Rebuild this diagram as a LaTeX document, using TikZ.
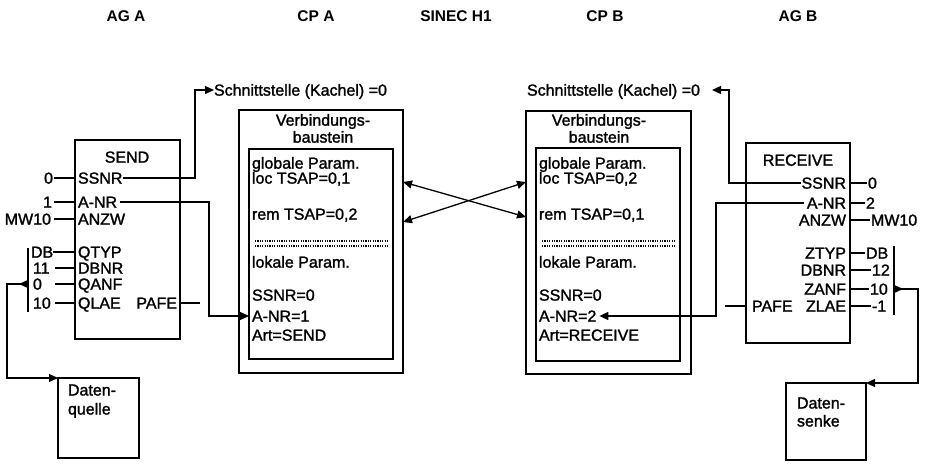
\documentclass[tikz,border=0pt]{standalone}
\usepackage{fontspec}
\setmainfont{Liberation Sans}
\newfontfamily\printfont{Liberation Sans}[FakeBold=1.5]
\usetikzlibrary{arrows.meta,calc}
\begin{document}
\begin{tikzpicture}[x=1pt,y=-1pt,
  line width=1.3pt,
  every node/.style={inner sep=0pt, outer sep=0pt},
  txt/.style={font=\printfont\fontsize{16}{18}\selectfont, text height=11.3pt, text depth=0pt},
  head/.style={font=\fontsize{15.5}{17}\selectfont\bfseries, text height=11pt, text depth=0pt},
  box/.style={draw, anchor=north west, line width=1.4pt},
  tip/.style={-{Triangle[length=9pt,width=8pt]}},
  dtip/.style={{Triangle[length=9pt,width=8pt]}-{Triangle[length=9pt,width=8pt]}},
  btip/.style={{Triangle[length=9pt,width=8pt,reversed]}-{Triangle[length=9pt,width=8pt]}},
  dots/.style={line width=1.3pt, dash pattern=on 1.2pt off 1.2pt},
]
\useasboundingbox (0,0) rectangle (926,463);

% column headings
\node[head] (hAGA) at (126,16) {AG A};
\node[head] (hCPA) at (316,16) {CP A};
\node[head] (hSIN) at (456,16) {SINEC H1};
\node[head] (hCPB) at (605,16) {CP B};
\node[head] (hAGB) at (798,16) {AG B};

% junction columns for the routed lines
\coordinate (jA) at (209,0);
\coordinate (jB) at (716,0);

% ---------------- SEND block (AG A) ----------------
\node[box, minimum width=105pt, minimum height=199pt] (send) at (75,140) {};
\node[txt] (sendT) at (127,157) {SEND};
\node[txt, anchor=west] (sSSNR) at (78,178) {SSNR};
\node[txt, anchor=west] (sANR)  at (78,202) {A-NR};
\node[txt, anchor=west] (sANZW) at (78,219) {ANZW};
\node[txt, anchor=west] (sQTYP) at (78,252) {QTYP};
\node[txt, anchor=west] (sDBNR) at (78,268) {DBNR};
\node[txt, anchor=west] (sQANF) at (78,284) {QANF};
\node[txt, anchor=west] (sQLAE) at (78,303) {QLAE};
\node[txt, anchor=east] (sPAFE) at (177,303) {PAFE};

% parameters of SEND
\node[txt, anchor=east] (iS) at (53,178) {0};
\node[txt, anchor=east] (iA) at (52,202) {1};
\node[txt, anchor=east] (iW) at (51,219) {MW10};
\draw[shorten <=1pt] (iS.east) -- (send.west |- iS.east);
\draw[shorten <=2pt] (iA.east) -- (send.west |- iA.east);
\draw[shorten <=3pt] (iW.east) -- (send.west |- iW.east);

% source area parameters
\coordinate (busLt) at (28,248);
\coordinate (busLb) at (28,312);
\draw (busLt) -- (busLb);
\node[txt, anchor=west] (qDB) at (31,252) {DB};
\node[txt, anchor=west] (q11) at (33,268) {11};
\node[txt, anchor=west] (q0)  at (33,284) {0};
\node[txt, anchor=west] (q10) at (33,303) {10};
\draw (qDB.east) -- (send.west |- qDB.east);
\foreach \n in {q11,q0,q10}
  \draw ($(busLt |- \n.west)+(27,0)$) -- (send.west |- \n.west);

% data source
\node[box, minimum width=81pt, minimum height=80pt] (quelle) at (58,378) {};
\node[txt, anchor=base west] (quelleA) at (68,395.5) {Daten-};
\node[txt, anchor=base west] (quelleB) at (68,414.5) {quelle};
\draw[btip] (busLt |- q0.west) -- ++(-21,0) |- (quelle.north west);

% interface output of SEND
\node[txt, anchor=west] (schA) at (214,90) {Schnittstelle (Kachel) =0};
\draw[tip, shorten <=1pt] (sSSNR.east) -| ($(schA.west)+(-19,0)$) -- (schA.west);

% PAFE of SEND
\draw (send.east |- sPAFE.east) -- ++(20,0);

% ---------------- CP A ----------------
\node[box, minimum width=164pt, minimum height=263pt] (cpA) at (239,110) {};
\node[box, minimum width=144pt, minimum height=210pt] (cpAin) at (249,149) {};
\node[txt] (cpAt1) at (323,120) {Verbindungs-};
\node[txt] (cpAt2) at (323,137) {baustein};
\node[txt, anchor=west] (aG)  at (252,163) {globale Param.};
\node[txt, anchor=west] (aL)  at (252,178) {loc TSAP=0,1};
\node[txt, anchor=west] (aR)  at (252,214) {rem TSAP=0,2};
\node[txt, anchor=west] (aK)  at (252,262) {lokale Param.};
\node[txt, anchor=west] (aS)  at (252,295) {SSNR=0};
\node[txt, anchor=west] (aA2) at (252,316) {A-NR=1};
\node[txt, anchor=west] (aT)  at (252,335) {Art=SEND};
\draw[dots] (cpAin.west |- 0,241) ++(6,0) -- ++(133,0);
\draw[dots] (cpAin.west |- 0,246) ++(6,0) -- ++(133,0);

% job number of SEND to CP A
\draw[tip, shorten <=3pt] (sANR.east) -| (jA |- aA2.west) -- (cpAin.west |- aA2.west);

% ---------------- CP B ----------------
\node[box, minimum width=165pt, minimum height=263pt] (cpB) at (526,111) {};
\node[box, minimum width=144pt, minimum height=213pt] (cpBin) at (536,148) {};
\node[txt] (cpBt1) at (599,120) {Verbindungs-};
\node[txt] (cpBt2) at (599,137) {baustein};
\node[txt, anchor=west] (bG)  at (539,163) {globale Param.};
\node[txt, anchor=west] (bL)  at (539,178) {loc TSAP=0,2};
\node[txt, anchor=west] (bR)  at (539,214) {rem TSAP=0,1};
\node[txt, anchor=west] (bK)  at (539,262) {lokale Param.};
\node[txt, anchor=west] (bS)  at (539,295) {SSNR=0};
\node[txt, anchor=west] (bA2) at (539,316) {A-NR=2};
\node[txt, anchor=west] (bT)  at (539,335) {Art=RECEIVE};
\draw[dots] (cpBin.west |- 0,241) ++(6,0) -- ++(133,0);
\draw[dots] (cpBin.west |- 0,246) ++(6,0) -- ++(133,0);
\node[txt, anchor=east] (schB) at (700,90) {Schnittstelle (Kachel) =0};

% SINEC H1 link: crossed TSAP pairs
\draw[dtip] (cpA.east |- 0,182) -- (cpB.west |- 0,217);
\draw[dtip] (cpA.east |- 0,222) -- (cpB.west |- 0,182);

% ---------------- RECEIVE block (AG B) ----------------
\node[box, minimum width=104pt, minimum height=200pt] (recv) at (746,143) {};
\node[txt] (recvT) at (798,160) {RECEIVE};
\node[txt, anchor=east] (rSSNR) at (846,183) {SSNR};
\node[txt, anchor=east] (rANR)  at (846,203) {A-NR};
\node[txt, anchor=east] (rANZW) at (846,220) {ANZW};
\node[txt, anchor=east] (rZTYP) at (846,253) {ZTYP};
\node[txt, anchor=east] (rDBNR) at (846,270) {DBNR};
\node[txt, anchor=east] (rZANF) at (846,289) {ZANF};
\node[txt, anchor=east] (rZLAE) at (846,306) {ZLAE};
\node[txt, anchor=west] (rPAFE) at (752,306) {PAFE};
\draw (recv.west |- rPAFE.west) -- ++(-21,0);

% parameters of RECEIVE
\node[txt, anchor=west] (o0)  at (868,183) {0};
\node[txt, anchor=west] (o2)  at (866,203) {2};
\node[txt, anchor=west] (oW)  at (871,220) {MW10};
\node[txt, anchor=west] (oDB) at (866,253) {DB};
\node[txt, anchor=west] (o12) at (872,270) {12};
\node[txt, anchor=west] (o10) at (870,289) {10};
\node[txt, anchor=west] (o1)  at (872,306) {-1};
\foreach \n in {o0,o2,oW,oDB,o12,o10,o1}
  \draw[shorten >=1pt] (recv.east |- \n.west) -- (\n.west);
\coordinate (busRt) at (894,246);
\coordinate (busRb) at (894,315);
\draw (busRt) -- (busRb);

% interface output of RECEIVE
\draw[tip, shorten <=1pt] (rSSNR.west) -| ($(schB.east)+(29,0)$) -- ($(schB.east)+(12,0)$);

% job number of RECEIVE to CP B
\draw[tip, shorten <=3pt] (rANR.west) -| (jB |- bA2.east) -- ($(bA2.east)+(3,0)$);

% data sink
\node[box, minimum width=80pt, minimum height=77pt] (senke) at (786,383) {};
\node[txt, anchor=base west] (senkeA) at (797,408.5) {Daten-};
\node[txt, anchor=base west] (senkeB) at (797,426.5) {senke};
\draw[btip] (busRt |- o10.west) -- ++(24,0) |- (senke.north east);
\end{tikzpicture}
\end{document}
